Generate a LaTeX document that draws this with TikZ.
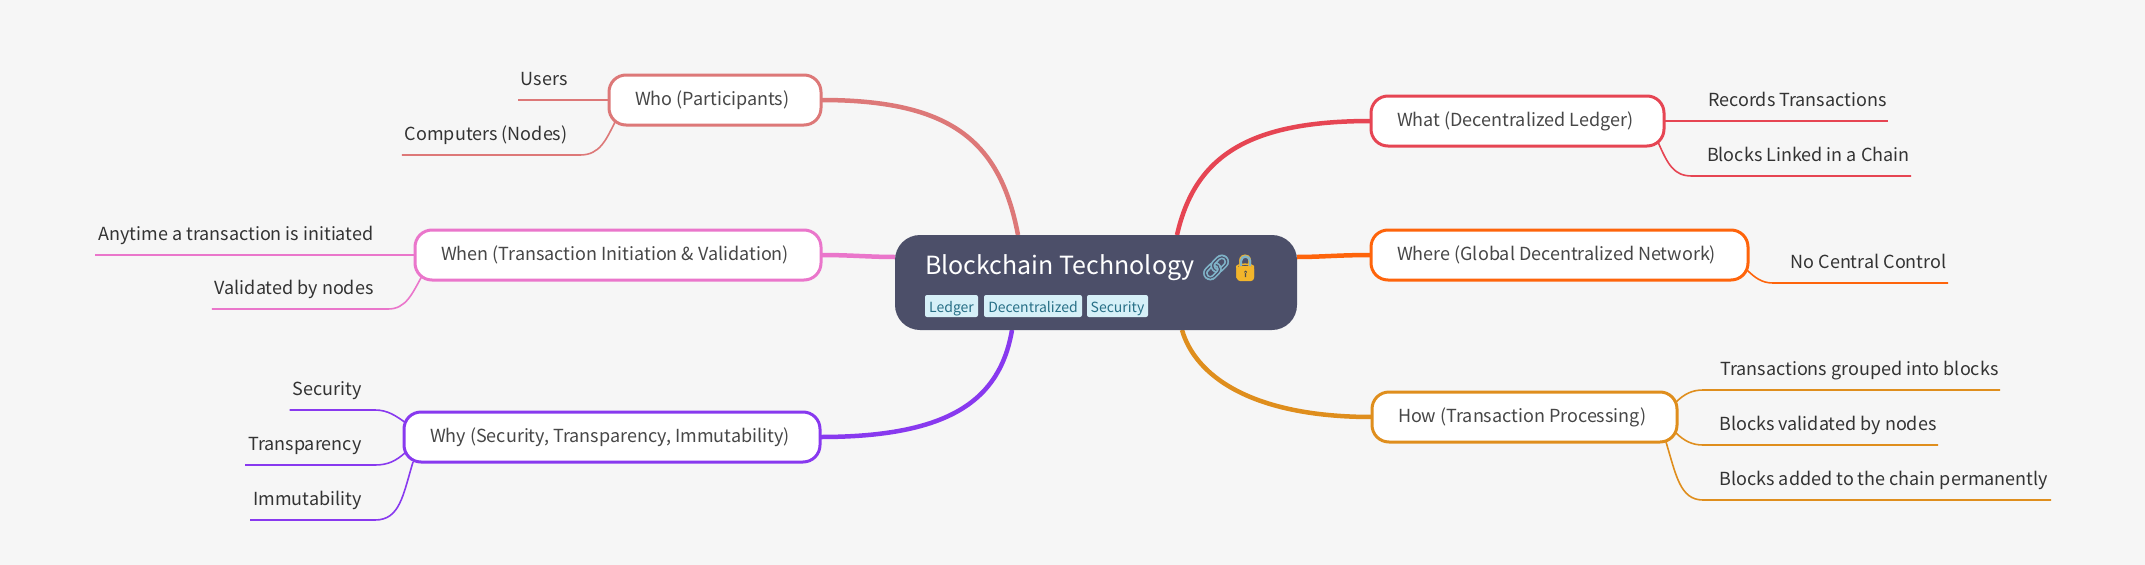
\documentclass[tikz,border=0pt]{standalone}
\usepackage{fontspec}
\setmainfont{Noto Sans CJK SC}
\newfontfamily\emojifont[FakeBold=2]{Noto Emoji}
\definecolor{bgc}{HTML}{F6F6F6}
\definecolor{rootc}{HTML}{4C4F69}
\definecolor{whatc}{HTML}{E64553}
\definecolor{wherec}{HTML}{FE640B}
\definecolor{howc}{HTML}{DF8E1D}
\definecolor{whyc}{HTML}{8839EF}
\definecolor{whenc}{HTML}{EA76CB}
\definecolor{whoc}{HTML}{DD7878}
\definecolor{tagbg}{HTML}{D6F0F8}
\definecolor{tagfg}{HTML}{276F86}
\definecolor{linkc}{HTML}{7FB3C8}
\definecolor{lockc}{HTML}{F2B52B}
\pgfdeclarelayer{paper}
\pgfdeclarelayer{conn}
\pgfsetlayers{paper,conn,main}
\tikzset{
  branch/.style={draw=#1,fill=white,line width=3pt,rounded corners=17pt,minimum height=50pt,
    inner xsep=26pt,inner ysep=0pt,outer sep=0pt,text height=14pt,text depth=4pt,align=flush left,
    text=black!72,font=\fontsize{18}{22}\selectfont},
  leaf/.style={inner xsep=3pt,inner ysep=0pt,outer sep=0pt,anchor=south east,text height=14pt,text depth=15pt,
    text=black!80,font=\fontsize{18}{22}\selectfont},
  leafr/.style={leaf,inner xsep=1.5pt},
  trunk/.style={draw=#1,line width=4.5pt},
  twig/.style={draw=#1,line width=1.6pt},
  tagbox/.style={fill=tagbg,text=tagfg,rounded corners=2pt,inner xsep=0pt,inner ysep=0pt,outer sep=0pt,
    minimum height=22pt,anchor=west,font=\fontsize{14}{16}\selectfont,text height=12pt,text depth=0pt},
}
\begin{document}
\begin{tikzpicture}[x=1pt,y=-1pt]
\useasboundingbox (0,0) rectangle (2145,565);
\begin{pgfonlayer}{paper}
\fill[bgc] (0,0) rectangle (2145,565);
\end{pgfonlayer}

% root attachment points
\coordinate (rWho) at (1018,235);
\coordinate (rWhen) at (895,257);
\coordinate (rWhy) at (1012,330);
\coordinate (rWhat) at (1177,235);
\coordinate (rWhere) at (1297,257);
\coordinate (rHow) at (1182,330);

% branches
\node[branch=whoc,text width=160pt] (who) at (715,100) {Who (Participants)};
\node[branch=whenc,text width=354pt] (when) at (618,255) {When (Transaction Initiation \& Validation)};
\node[branch=whyc,text width=364pt] (why) at (612,437) {Why (Security, Transparency, Immutability)};
\node[branch=whatc,text width=241pt] (what) at (1517.5,121) {What (Decentralized Ledger)};
\node[branch=wherec,text width=325pt] (where) at (1559.5,255) {Where (Global Decentralized Network)};
\node[branch=howc,text width=253pt] (how) at (1524.5,417) {How (Transaction Processing)};

% leaves
\node[leaf] (users) at (570.5,100) {Users};
\node[leaf] (computers) at (570.5,155) {Computers (Nodes)};
\node[leaf] (anytime) at (376.5,255) {Anytime a transaction is initiated};
\node[leaf] (validated) at (376.5,309) {Validated by nodes};
\node[leaf] (security) at (364.5,410) {Security};
\node[leaf] (transparency) at (364.5,465) {Transparency};
\node[leaf] (immutability) at (364.5,520) {Immutability};
\node[leafr] (records) at (1888,121) {Records Transactions};
\node[leafr] (linked) at (1911,176) {Blocks Linked in a Chain};
\node[leafr] (central) at (1948,283) {No Central Control};
\node[leafr] (grouped) at (2000,390) {Transactions grouped into blocks};
\node[leafr] (byNodes) at (1938,445) {Blocks validated by nodes};
\node[leaf] (added) at (2051,500) {Blocks added to the chain permanently};

% twig start points on branch outlines
\coordinate (sComputers) at (616,120);
\coordinate (sValidated) at (422,276);
\coordinate (sSecurity) at (406,423);
\coordinate (sTransparency) at (406,452);
\coordinate (sImmutability) at (413,462);
\coordinate (sLinked) at (1658,142);
\coordinate (sCentral) at (1746,269);
\coordinate (sGrouped) at (1675,403);
\coordinate (sByNodes) at (1675,432);
\coordinate (sAdded) at (1666,442);

\begin{pgfonlayer}{conn}
\draw[twig=whoc] (who.west) -- (users.south west);
\draw[twig=whoc] (sComputers) .. controls (606,140) and (600,155) .. (580,155) -- (computers.south west);
\draw[twig=whenc] (when.west) -- (anytime.south west);
\draw[twig=whenc] (sValidated) .. controls (412,294) and (406,309) .. (388,309) -- (validated.south west);
\draw[twig=whyc] (sSecurity) .. controls (396,416) and (388,410) .. (375,410) -- (security.south west);
\draw[twig=whyc] (sTransparency) .. controls (396,461) and (388,465) .. (375,465) -- (transparency.south west);
\draw[twig=whyc] (sImmutability) .. controls (403,495) and (400,520) .. (375,520) -- (immutability.south west);
\draw[twig=whatc] (what.east) -- (records.south east);
\draw[twig=whatc] (sLinked) .. controls (1668,165) and (1674,176) .. (1692,176) -- (linked.south east);
\draw[twig=wherec] (sCentral) .. controls (1755,278) and (1762,283) .. (1773,283) -- (central.south east);
\draw[twig=howc] (sGrouped) .. controls (1684,394) and (1692,390) .. (1703,390) -- (grouped.south east);
\draw[twig=howc] (sByNodes) .. controls (1684,441) and (1692,445) .. (1703,445) -- (byNodes.south east);
\draw[twig=howc] (sAdded) .. controls (1676,475) and (1680,500) .. (1703,500) -- (added.south east);

\draw[trunk=whoc] (who.east) .. controls (950,100) and (1000,140) .. (rWho);
\draw[trunk=whenc] (when.east) .. controls (850,255) and (870,257) .. (rWhen);
\draw[trunk=whyc] (why.east) .. controls (950,437) and (1000,400) .. (rWhy);
\draw[trunk=whatc] (what.west) .. controls (1250,121) and (1195,155) .. (rWhat);
\draw[trunk=wherec] (where.west) .. controls (1340,255) and (1320,257) .. (rWhere);
\draw[trunk=howc] (how.west) .. controls (1250,417) and (1195,375) .. (rHow);
\end{pgfonlayer}

% root
\node[fill=rootc,rounded corners=25pt,minimum width=402pt,minimum height=95pt,inner sep=0pt,outer sep=0pt] (root) at (1096,282.5) {};
\node[anchor=base west,inner sep=0pt,text=white,font=\fontsize{25}{30}\selectfont] (title) at (925,274) {Blockchain Technology};
\node[anchor=base west,inner sep=0pt,text=linkc,font=\emojifont\fontsize{25}{30}\selectfont] (link) at (1200,276) {\char"1F517};
\node[anchor=base west,inner sep=0pt,text=lockc,font=\emojifont\fontsize{25}{30}\selectfont] (lock) at (1229,276) {\char"1F512};
% lock: solid body, keyhole, and shackle colour
\fill[lockc,rounded corners=3pt] (1237,266) rectangle (1254,281);
\fill[black!70] (1245.5,272) circle (1.5) (1244.8,272) rectangle (1246.2,277);
\draw[linkc,line width=2.4pt] (1241,266) -- (1241,261) arc[start angle=180,end angle=0,x radius=4.5,y radius=-4.5] -- (1250,266);
\node[tagbox,minimum width=53pt] (t1) at (925,306) {Ledger};
\node[tagbox,minimum width=98pt] (t2) at (984,306) {Decentralized};
\node[tagbox,minimum width=61pt] (t3) at (1087,306) {Security};
\end{tikzpicture}
\end{document}
